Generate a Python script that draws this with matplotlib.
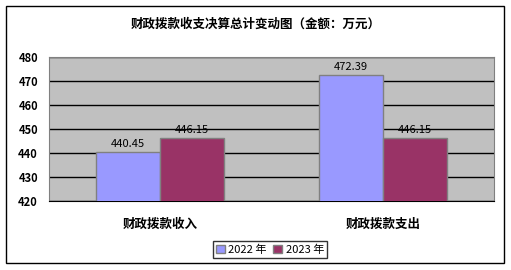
import matplotlib.pyplot as plt
from matplotlib.patches import Rectangle
import numpy as np

plt.rcParams['font.family'] = ['Noto Sans CJK SC', 'DejaVu Sans']

categories = ['财政拨款收入', '财政拨款支出']
series_names = ['2022 年', '2023 年']
values_2022 = [440.45, 472.39]
values_2023 = [446.15, 446.15]
yticks = [420, 430, 440, 450, 460, 470, 480]

W, H = 511, 270
fig = plt.figure(figsize=(W / 100, H / 100), dpi=100)

# outer chart border
fig.patches.append(Rectangle((6 / W, 1 - 263 / H), 498 / W, 257 / H,
                             transform=fig.transFigure, fill=False,
                             edgecolor='black', linewidth=1))

fig.text(0.5, 1 - 24 / H, '财政拨款收支决算总计变动图（金额：万元）',
         ha='center', va='center', fontsize=9, fontweight='bold')

ax = fig.add_axes([49 / W, 1 - 201 / H, 445 / W, 144 / H])
ax.set_facecolor('#c0c0c0')

x = np.arange(len(categories))
bw = 0.288
b1 = ax.bar(x - bw / 2, values_2022, bw, color='#9999ff', edgecolor='#808080',
            linewidth=1, label=series_names[0], zorder=3)
b2 = ax.bar(x + bw / 2, values_2023, bw, color='#993366', edgecolor='#808080',
            linewidth=1, label=series_names[1], zorder=3)

for bars in (b1, b2):
    for r in bars:
        ax.text(r.get_x() + r.get_width() / 2, r.get_height() + 1.2,
                f'{r.get_height():.2f}', ha='center', va='bottom', fontsize=8,
                zorder=4)

ax.set_xlim(-0.5, 1.5)
ax.set_ylim(420, 480)
ax.set_yticks(yticks)
ax.set_yticklabels([str(t) for t in yticks], fontsize=8, fontweight='bold')
ax.set_xticks(x)
ax.set_xticklabels(categories, fontsize=9, fontweight='bold')
ax.tick_params(axis='x', length=0, pad=12)
ax.tick_params(axis='y', length=0, pad=8)
ax.yaxis.grid(True, color='black', linewidth=1, zorder=1)
ax.set_axisbelow(True)
for s in ['top', 'right']:
    ax.spines[s].set_color('#808080')
ax.spines['left'].set_color('#808080')
ax.spines['bottom'].set_color('black')

leg = fig.legend(handles=[b1, b2], labels=series_names, loc='center',
                 bbox_to_anchor=((212 + 328) / 2 / W, 1 - 249.5 / H),
                 ncol=2, fontsize=8, frameon=True, fancybox=False,
                 handlelength=0.8, handleheight=0.8, handletextpad=0.3,
                 columnspacing=0.6, borderpad=0.3)
leg.get_frame().set_edgecolor('black')
leg.get_frame().set_linewidth(1)

fig.savefig('out.png', dpi=100)
